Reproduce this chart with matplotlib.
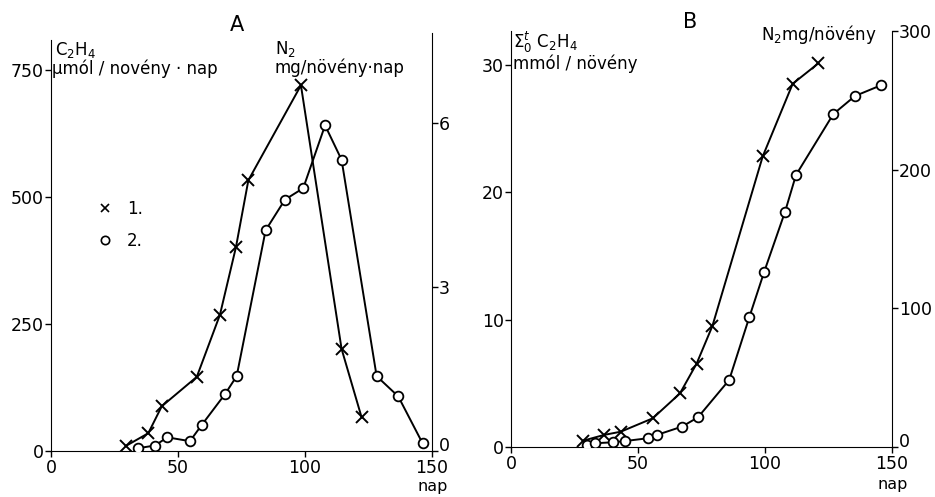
import matplotlib.pyplot as plt

# panel A: daily rates
a_x1_day = [29.5, 38.3, 43.6, 57.4, 66.5, 72.8, 77.7, 98.4, 114.4, 122.3]
a_x1_c2h4 = [10, 35, 88, 146, 268, 401, 533, 720, 201, 66]
a_o2_day = [34.1, 40.9, 45.8, 54.7, 59.4, 68.5, 73.1, 84.5, 92.1, 99.3,
            107.9, 114.4, 128.2, 136.7, 146.3]
a_o2_n2 = [0.05, 0.1, 0.25, 0.18, 0.48, 1.04, 1.37, 4.04, 4.6, 4.81,
           5.96, 5.33, 1.37, 1.0, 0.14]

# panel B: cumulative
b_x1_day = [28.5, 36.7, 43.2, 55.8, 66.5, 73.1, 79.3, 99.1, 110.9, 121.0]
b_x1_c2h4 = [0.5, 0.95, 1.2, 2.25, 4.2, 6.55, 9.5, 22.8, 28.5, 30.1]
b_o2_day = [29.8, 33.1, 40.0, 44.9, 53.8, 57.4, 67.3, 73.6, 85.9, 93.8,
            99.7, 107.9, 112.2, 126.9, 135.4, 145.7]
b_o2_n2 = [1.4, 2.7, 3.4, 4.3, 6.3, 8.7, 14.7, 21.4, 48.4, 93.6,
           126.6, 169.9, 196.4, 240.4, 253.4, 261.2]

xticks = [0, 50, 100, 150]

W, H = 935, 497
fig = plt.figure(figsize=(W / 100, H / 100), dpi=100)
plt.rcParams['font.family'] = 'DejaVu Sans'


def px(x, y):
    return x / W, 1 - y / H


def style(ax, ax2):
    for a in (ax, ax2):
        a.spines['top'].set_visible(False)
        a.tick_params(direction='out', length=4, width=1, labelsize=12.5,
                      color='black', pad=1)
    ax.spines['right'].set_visible(False)
    ax2.spines['left'].set_visible(False)
    ax2.spines['bottom'].set_visible(False)
    ax.set_xlim(0, 150)
    ax.set_xticks(xticks)
    ax.tick_params(axis='x', pad=2)


def lift_zero(ax2):
    # right-hand "0" sits a bit higher so it clears the "150" below
    ax2.yaxis.get_major_ticks()[0].label2.set_verticalalignment('baseline')


def line(ax, x, y, marker):
    if marker == 'x':
        ax.plot(x, y, color='black', lw=1.4, marker='x', ms=8, mew=1.4)
    else:
        ax.plot(x, y, color='black', lw=1.4, marker='o', ms=7, mew=1.3,
                mfc='white', mec='black')


# ---- A ----
axA = fig.add_axes([51 / W, 1 - 451 / H, 381 / W, 418 / H])
axA2 = axA.twinx()
style(axA, axA2)
line(axA, a_x1_day, a_x1_c2h4, 'x')
line(axA2, a_o2_day, a_o2_n2, 'o')
axA.set_ylim(0, 823)
axA.set_yticks([0, 250, 500, 750])
axA.spines['left'].set_bounds(0, 809)
axA2.set_ylim(0, 7.65)
axA2.set_yticks([0, 3, 6])
lift_zero(axA2)

fig.text(*px(237, 25), 'A', fontsize=15, ha='center', va='center')
fig.text(*px(55, 50), r'C$_2$H$_4$', fontsize=12, ha='left', va='center')
fig.text(*px(52, 69), 'µmól / novény · nap', fontsize=12, ha='left', va='center')
fig.text(*px(275, 49), r'N$_2$', fontsize=12, ha='left', va='center')
fig.text(*px(275, 68), 'mg/növény·nap', fontsize=12, ha='left', va='center')
fig.text(*px(433, 487), 'nap', fontsize=11.5, ha='center', va='center')

# legend
axA.plot([21.1], [478], marker='x', color='black', ms=6, mew=1.2)
fig.text(*px(127, 209), '1.', fontsize=12, ha='left', va='center')
axA.plot([21.1], [415], marker='o', mfc='white', mec='black', ms=6, mew=1.2)
fig.text(*px(127, 241), '2.', fontsize=12, ha='left', va='center')

# ---- B ----
axB = fig.add_axes([511 / W, 1 - 447 / H, 381 / W, 415.5 / H])
axB2 = axB.twinx()
style(axB, axB2)
line(axB, b_x1_day, b_x1_c2h4, 'x')
line(axB2, b_o2_day, b_o2_n2, 'o')
axB.set_ylim(0, 32.6)
axB.set_yticks([0, 10, 20, 30])
axB2.set_ylim(0, 300)
axB2.set_yticks([0, 100, 200, 300])
lift_zero(axB2)

fig.text(*px(690, 22), 'B', fontsize=15, ha='center', va='center')
fig.text(*px(513, 42), r'$\Sigma_0^t$ C$_2$H$_4$', fontsize=12, ha='left', va='center')
fig.text(*px(513, 64), 'mmól / növény', fontsize=12, ha='left', va='center')
fig.text(*px(877, 35), r'N$_2$mg/növény', fontsize=12, ha='right', va='center')
fig.text(*px(893, 484), 'nap', fontsize=11.5, ha='center', va='center')

fig.savefig('out.png', dpi=100, facecolor='white')
